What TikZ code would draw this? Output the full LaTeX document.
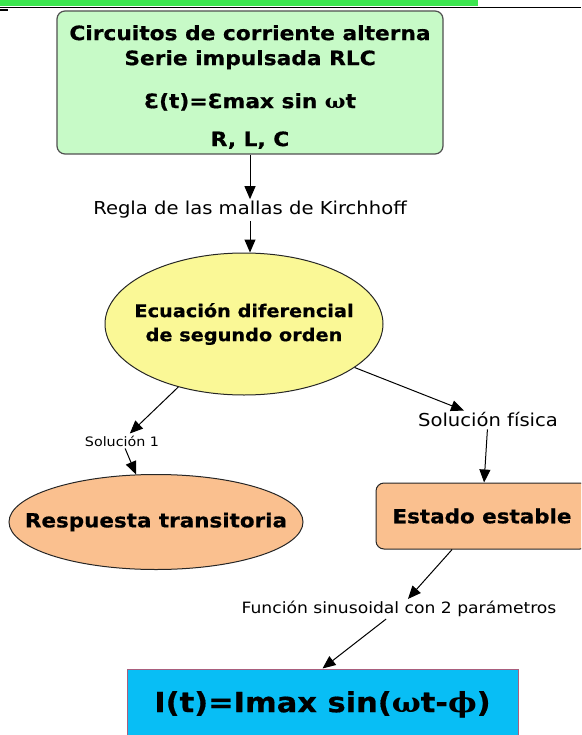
\documentclass[tikz,border=0pt]{standalone}
\usepackage{fontspec}
\setmainfont{DejaVu Sans}[FakeStretch=1.1, BoldFeatures={FakeBold=0.6}]
\newfontfamily\grk{DejaVu Serif}[FakeStretch=1.1]
\usetikzlibrary{shapes.geometric,arrows.meta}

\definecolor{bargreen}{RGB}{59,230,78}
\definecolor{mint}{RGB}{199,250,199}
\definecolor{lemon}{RGB}{250,248,150}
\definecolor{peach}{RGB}{250,192,143}
\definecolor{skyblue}{RGB}{8,190,245}
\definecolor{edgegray}{RGB}{80,80,80}
\definecolor{edgerose}{RGB}{170,95,125}

\newcommand{\zerowd}[1]{\makebox[0pt]{#1}}

\begin{document}
\begin{tikzpicture}[x=1pt, y=-1pt,
  every node/.style = {align=center, inner sep=2pt},
  conn/.style = {line width=1pt, -{Triangle[length=13pt,width=11pt]}},
  lbl/.style = {font=\fontsize{17.8}{21}\selectfont},
  smalllbl/.style = {font=\fontsize{13}{15}\selectfont},
  greenbox/.style = {shape=rectangle, rounded corners=8pt, draw=edgegray,
    line width=1.2pt, fill=mint, minimum width=386pt, minimum height=143pt,
    font=\bfseries\fontsize{19.75}{23}\selectfont},
  yellowell/.style = {shape=ellipse, draw=black!85, line width=1pt, fill=lemon,
    inner sep=0pt, minimum width=278pt, minimum height=142pt,
    font=\bfseries\fontsize{17.55}{24}\selectfont},
  peachell/.style = {shape=ellipse, draw=black!85, line width=1pt, fill=peach,
    inner sep=0pt, minimum width=294pt, minimum height=95pt,
    font=\bfseries\fontsize{19.5}{23}\selectfont},
  peachbox/.style = {shape=rectangle, rounded corners=8pt, draw=black!85,
    line width=1pt, fill=peach, minimum width=212pt, minimum height=66pt,
    font=\bfseries\fontsize{19.5}{23}\selectfont},
  bluebox/.style = {shape=rectangle, draw=edgerose, line width=1pt, fill=skyblue,
    minimum width=391pt, minimum height=71pt,
    font=\bfseries\fontsize{27.7}{32}\selectfont}]

  \useasboundingbox (0,0) rectangle (581,735);
  \clip (0,0) rectangle (581,735);

  % page header
  \fill[bargreen] (0,0) rectangle (478,6);
  \draw[line width=0.8pt] (0,7.5) -- (581,7.5);
  \draw[line width=1.5pt] (0,10) -- (8,10);

  % nodes
  \node[greenbox] (circuito) at (250,82.5)
    {\rule{0pt}{24pt}Circuitos de corriente alterna\\[2pt]
     Serie impulsada RLC\\[20pt]
     Ɛ(t)=Ɛmax sin {\grk ω}t\\[15pt]
     R, L, C};
  \node[lbl] (kirchhoff) at (250,210) {Regla de las mallas de Kirchhoff};
  \node[yellowell] (ecuacion) at (244,324)
    {\zerowd{Ecuación diferencial}\\\zerowd{de segundo orden}};
  \node[smalllbl] (sol1) at (122,441) {Solución 1};
  \node[lbl] (solfis) at (488,420) {Solución física};
  \node[peachell] (transit) at (156,522) {\zerowd{Respuesta transitoria}};
  \node[peachbox] (estable) at (482,516) {Estado estable};
  \node[lbl, font=\fontsize{15.6}{18}\selectfont] (sinus) at (399,609)
    {Función sinusoidal con 2 parámetros};
  \node[bluebox] (corriente) at (322.5,704.5)
    {I(t)=Imax sin({\grk ω}t-{\grk ϕ})};

  % connectors
  \draw[conn] (circuito) -- (kirchhoff);
  \draw[conn] (kirchhoff) -- (kirchhoff |- ecuacion.north);
  \draw[conn] (ecuacion) -- (sol1);
  \draw[conn] (sol1) -- (transit);
  \draw[conn] (ecuacion) -- (solfis);
  \draw[conn] (solfis) -- (estable);
  \draw[conn] (estable) -- (sinus);
  \draw[conn] (sinus) -- (corriente.north);
\end{tikzpicture}
\end{document}
